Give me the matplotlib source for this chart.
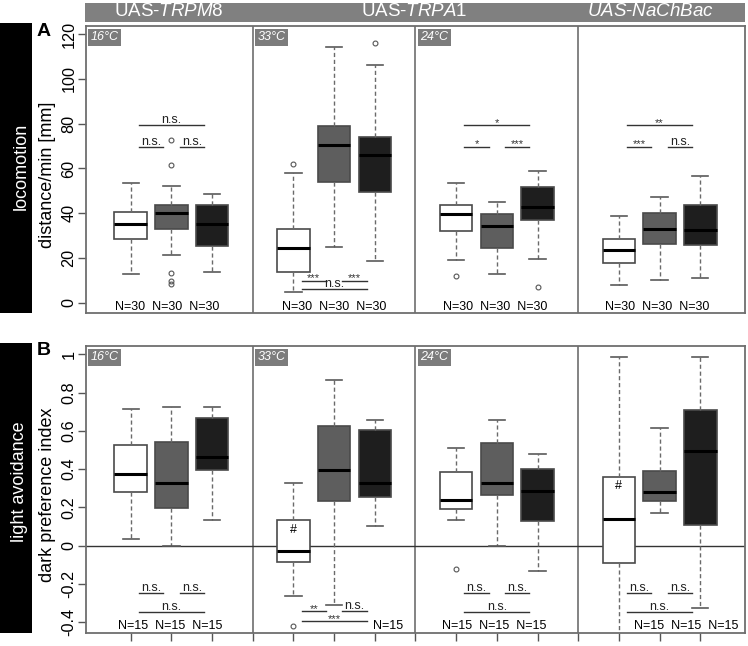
import matplotlib
matplotlib.use('Agg')
import matplotlib.pyplot as plt
from matplotlib.patches import Rectangle
from matplotlib.transforms import blended_transform_factory

plt.rcParams['font.family'] = ['Liberation Sans', 'DejaVu Sans']
plt.rcParams['mathtext.fontset'] = 'custom'
plt.rcParams['mathtext.rm'] = 'Liberation Sans'
plt.rcParams['mathtext.it'] = 'Liberation Sans:italic'

positions = [1, 2, 3, 5, 6, 7, 9, 10, 11, 13, 14, 15]
box_colors = ['white', '#5e5e5e', '#1e1e1e'] * 4
dividers = [4, 8, 12]
section_left = [-0.1, 4, 8]
temps = ['16°C', '33°C', '24°C']
headers = ['UAS-$\\mathit{TRPM8}$', 'UAS-$\\mathit{TRPA1}$', '$\\mathit{UAS}$-$\\mathit{NaChBac}$']

# panel A, locomotion, distance/min [mm]
loco_whislo = [13.1, 21.4, 14.0, 5.0, 24.9, 18.8, 19.2, 12.8, 19.7, 8.0, 10.3, 11.3]
loco_q1 = [28.6, 33.0, 25.5, 13.8, 53.9, 49.4, 32.2, 24.4, 36.9, 17.7, 26.2, 25.8]
loco_med = [35.1, 40.0, 35.1, 24.4, 70.3, 65.8, 39.7, 34.4, 43.0, 23.8, 33.2, 32.5]
loco_q3 = [40.5, 43.8, 43.8, 33.2, 79.0, 74.0, 43.5, 39.6, 51.8, 28.4, 40.3, 43.5]
loco_whishi = [53.7, 52.3, 48.7, 57.9, 114.3, 106.3, 53.4, 45.1, 59.0, 38.9, 47.2, 56.6]
loco_fliers = [[], [72.8, 61.6, 13.4, 10.0, 8.5], [], [62.1], [], [116.0],
               [11.8], [], [7.3], [], [], []]
loco_sig = [(1.2, 1.8, 69.8, 'n.s.'), (2.2, 2.8, 69.8, 'n.s.'), (1.2, 2.8, 79.4, 'n.s.'),
            (5.2, 5.8, 10.0, '***'), (6.2, 6.8, 10.0, '***'), (5.2, 6.8, 6.1, 'n.s.'),
            (9.2, 9.8, 69.8, '*'), (10.2, 10.8, 69.8, '***'), (9.2, 10.8, 79.4, '*'),
            (13.2, 13.8, 69.8, '***'), (14.2, 14.8, 69.8, 'n.s.'), (13.2, 14.8, 79.4, '**')]
loco_n = [(1.9, 'N=30  N=30  N=30'), (6.0, 'N=30  N=30  N=30'),
          (9.95, 'N=30  N=30  N=30'), (13.95, 'N=30  N=30  N=30')]

# panel B, light avoidance, dark preference index
dpi_whislo = [0.035, 0.0, 0.132, -0.261, -0.31, 0.104, 0.132, 0.0, -0.134, -1.0, 0.170, -0.327]
dpi_q1 = [0.283, 0.197, 0.397, -0.087, 0.235, 0.254, 0.191, 0.264, 0.130, -0.090, 0.231, 0.106]
dpi_med = [0.374, 0.329, 0.461, -0.026, 0.393, 0.330, 0.240, 0.330, 0.285, 0.141, 0.283, 0.494]
dpi_q3 = [0.525, 0.541, 0.666, 0.132, 0.623, 0.605, 0.384, 0.536, 0.402, 0.358, 0.391, 0.710]
dpi_whishi = [0.713, 0.723, 0.723, 0.330, 0.863, 0.659, 0.510, 0.659, 0.478, 0.984, 0.616, 0.984]
dpi_fliers = [[], [], [], [-0.421], [], [], [-0.122], [], [], [], [], []]
dpi_sig = [(1.2, 1.8, -0.247, 'n.s.'), (2.2, 2.8, -0.247, 'n.s.'), (1.2, 2.8, -0.348, 'n.s.'),
           (5.2, 5.8, -0.340, '**'), (6.2, 6.8, -0.340, 'n.s.'), (5.2, 6.8, -0.394, '***'),
           (9.2, 9.8, -0.247, 'n.s.'), (10.2, 10.8, -0.247, 'n.s.'), (9.2, 10.8, -0.348, 'n.s.'),
           (13.2, 13.8, -0.247, 'n.s.'), (14.2, 14.8, -0.247, 'n.s.'), (13.2, 14.8, -0.348, 'n.s.')]
dpi_n = [(1.96, 'N=15  N=15  N=15'), (7.32, 'N=15'),
         (9.94, 'N=15  N=15  N=15'), (14.65, 'N=15  N=15  N=15')]
dpi_hash = [(5, 0.083), (13, 0.31)]

W, H = 748, 646
fig = plt.figure(figsize=(W / 100, H / 100), dpi=100)


def fx(px):
    return px / W


def fy(py):
    return 1 - py / H


def setup_axes(ax, ylim, yticks, yticklabels, ylabel):
    ax.set_xlim(-0.1, 16.1)
    ax.set_ylim(*ylim)
    ax.set_yticks(yticks)
    ax.set_yticklabels(yticklabels)
    ax.tick_params(axis='y', labelrotation=90, length=6, width=1, color='#555555',
                   labelsize=11.7, pad=1)
    for lab in ax.get_yticklabels():
        lab.set_va('center')
    for sp in ax.spines.values():
        sp.set_color('#6e6e6e')
        sp.set_linewidth(1.3)
    for d in dividers:
        ax.axvline(d, color='#6e6e6e', lw=1.2, zorder=1)
    ax.set_ylabel(ylabel, fontsize=13)
    ax.yaxis.set_label_coords(-0.058, 0.48)
    ax.yaxis.label.set_va('center')
    trans = blended_transform_factory(ax.transData, ax.transAxes)
    for x, t in zip(section_left, temps):
        ax.text(x + 0.12, 0.96, t, transform=trans, fontsize=9, style='italic',
                color='white', ha='left', va='center',
                bbox=dict(boxstyle='square,pad=0.2', fc='#7c7c7c', ec='none'))


def draw_boxes(ax, whislo, q1, med, q3, whishi, fliers):
    stats = []
    for i in range(len(positions)):
        stats.append(dict(whislo=whislo[i], q1=q1[i], med=med[i], q3=q3[i],
                          whishi=whishi[i], fliers=fliers[i]))
    art = ax.bxp(stats, positions=positions, widths=0.8, patch_artist=True,
                 manage_ticks=False,
                 boxprops=dict(edgecolor='#4a4a4a', linewidth=1.2),
                 medianprops=dict(color='black', linewidth=2.2),
                 whiskerprops=dict(color='#6a6a6a', linestyle=(0, (3, 2)), linewidth=1),
                 capprops=dict(color='#5a5a5a', linewidth=1.2),
                 flierprops=dict(marker='o', markersize=3.5, markerfacecolor='none',
                                 markeredgecolor='#555555', markeredgewidth=0.8))
    for patch, c in zip(art['boxes'], box_colors):
        patch.set_facecolor(c)


def draw_sig(ax, sig, px_unit):
    for x0, x1, y, label in sig:
        ax.plot([x0, x1], [y, y], color='#333333', lw=1, zorder=3)
        if '*' in label:
            ax.text((x0 + x1) / 2, y - 1 * px_unit, label, ha='center', va='baseline',
                    fontsize=8, color='#333333')
        else:
            ax.text((x0 + x1) / 2, y + 2 * px_unit, label, ha='center', va='baseline',
                    fontsize=9, color='#222222')


# panel A
axA = fig.add_axes([fx(86), fy(313), fx(659), 287 / H])
setup_axes(axA, (-4.5, 123.6), range(0, 121, 20), [str(v) for v in range(0, 121, 20)],
           'distance/min [mm]')
axA.set_xticks([])
draw_boxes(axA, loco_whislo, loco_q1, loco_med, loco_q3, loco_whishi, loco_fliers)
draw_sig(axA, loco_sig, 0.446)
for x, t in loco_n:
    axA.text(x, -1.8, t, ha='center', va='center', fontsize=9)

# panel B
axB = fig.add_axes([fx(86), fy(633), fx(659), 287 / H])
bticks = [-0.4, -0.2, 0, 0.2, 0.4, 0.6, 0.8, 1]
setup_axes(axB, (-0.456, 1.043), bticks, ['-0.4', '-0.2', '0', '0.2', '0.4', '0.6', '0.8', '1'],
           'dark preference index')
axB.set_xticks(range(1, 16))
axB.set_xticklabels([])
axB.tick_params(axis='x', length=6, width=1, color='#555555')
axB.axhline(0, color='#333333', lw=1, zorder=1)
draw_boxes(axB, dpi_whislo, dpi_q1, dpi_med, dpi_q3, dpi_whishi, dpi_fliers)
draw_sig(axB, dpi_sig, 0.00522)
for x, t in dpi_n:
    axB.text(x, -0.417, t, ha='center', va='center', fontsize=9)
for x, y in dpi_hash:
    axB.text(x, y, '#', ha='center', va='center', fontsize=9)

# header bar with genotypes
fig.add_artist(Rectangle((fx(85), fy(22)), fx(660), 19 / H, transform=fig.transFigure,
                         color='#808080', lw=0))
for cx, t in zip([169, 414, 650], headers):
    fig.text(fx(cx), fy(12), t, ha='center', va='center', color='white', fontsize=13.5)

# side bars
fig.add_artist(Rectangle((0, fy(313)), fx(32), 290 / H, transform=fig.transFigure,
                         color='black', lw=0))
fig.add_artist(Rectangle((0, fy(633)), fx(32), 290 / H, transform=fig.transFigure,
                         color='black', lw=0))
fig.text(fx(21), fy(166), 'locomotion', rotation=90, ha='center', va='center',
         color='white', fontsize=13)
fig.text(fx(20), fy(482), 'light avoidance', rotation=90, ha='center', va='center',
         color='white', fontsize=13)
fig.text(fx(43.5), fy(31), 'A', ha='center', va='center', fontsize=14, fontweight='bold')
fig.text(fx(43.5), fy(351), 'B', ha='center', va='center', fontsize=14, fontweight='bold')

fig.savefig('out.png', dpi=100)
